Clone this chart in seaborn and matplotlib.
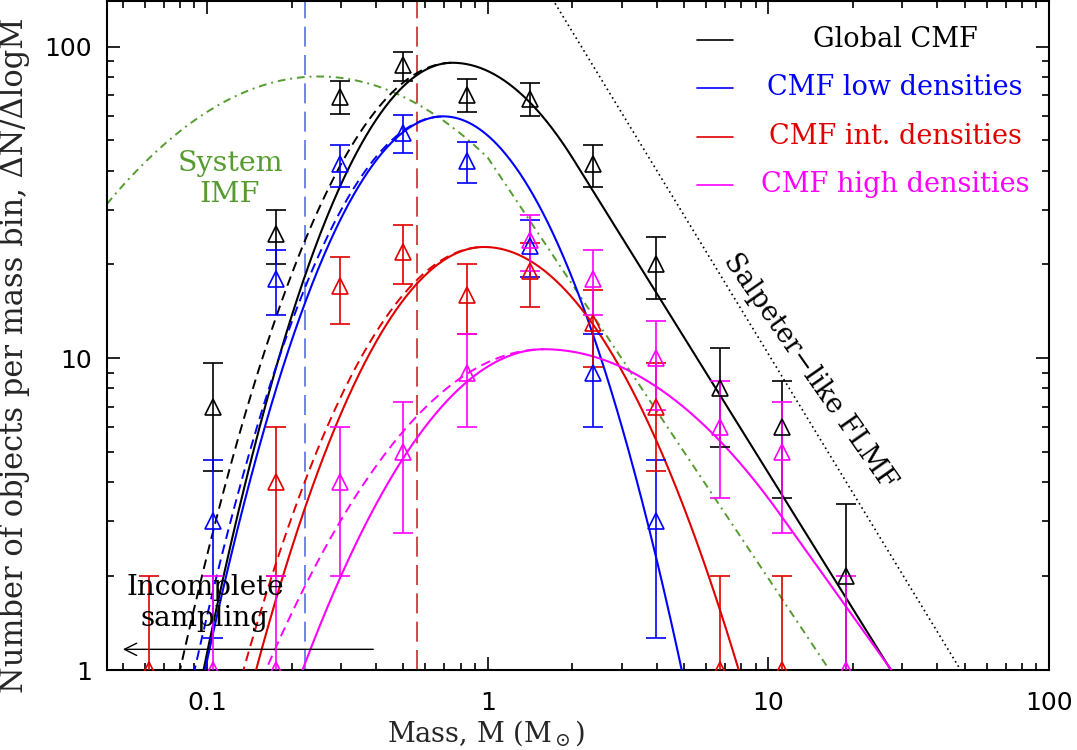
import numpy as np
import pandas as pd
import seaborn as sns
import matplotlib
matplotlib.use("Agg")
import matplotlib.pyplot as plt
from matplotlib.ticker import FixedLocator, FuncFormatter, NullFormatter

# ---------------- data ----------------
mass_bins = [0.062, 0.105, 0.176, 0.297, 0.498, 0.841, 1.41, 2.37, 3.99, 6.71, 11.2, 18.9]
nan = np.nan
n_global = [nan, 7, 25, 69, 87, 70, 68, 42, 20, 8, 6, 2]
err_global = [nan, 2.65, 5.0, 8.3, 9.3, 8.4, 8.2, 6.5, 4.5, 2.8, 2.45, 1.4]
n_low = [nan, 3, 18, 42, 53, 43, 23, 9, 3, nan, nan, nan]
err_low = [nan, 1.73, 4.24, 6.5, 7.3, 6.55, 4.8, 3.0, 1.73, nan, nan, nan]
n_int = [1, nan, 4, 17, 22, 16, 19, 13, 7, 1, 1, nan]
err_int = [1.0, nan, 2.0, 4.12, 4.7, 4.0, 4.36, 3.6, 2.65, 1.0, 1.0, nan]
n_high = [nan, 1, 1, 4, 5, 9, 24, 18, 10, 6, 5, 1]
err_high = [nan, 1.0, 1.0, 2.0, 2.24, 3.0, 4.9, 4.24, 3.16, 2.45, 2.24, 1.0]

series_labels = ["Global CMF", "CMF low densities", "CMF int. densities", "CMF high densities"]

# fitted model parameters (log10 peak mass, log10 peak value, widths in dex, tail slope)
fit_logpeak = [-0.126, -0.158, -0.013, 0.20]
fit_logamp = [1.948, 1.776, 1.357, 1.029]
fit_sigma_low = [0.296, 0.297, 0.325, 0.395]
fit_sigma_high = [0.361, 0.297, 0.363, 0.539]
fit_tail_slope = [-1.448, None, None, -1.26]
# alternative (dashed) fits differ only on the low-mass side
alt_sigma_low = [0.324, 0.310, 0.343, 0.455]

# Chabrier-like system IMF
imf_logpeak = -0.602
imf_logamp = 1.904
imf_sigma = 0.55
imf_tail_slope = -1.35
imf_tail_start = 0.0

# Salpeter-like reference line
salp_slope = -1.48
salp_log_m_at_one = 1.685

# completeness limits
limit_low_density = 0.223
limit_int_density = 0.56

# ---------------- style ----------------
sns.set_theme(style="ticks")
plt.rcParams["font.family"] = ["DejaVu Serif"]
plt.rcParams["mathtext.fontset"] = "dejavuserif"
plt.rcParams["axes.linewidth"] = 1.5

colors = ["black", "#0000ff", "#e00000", "#ff00ff"]
green = "#559b2f"

LOG10E = np.log10(np.e)


def skew_lognormal(logm, logpeak, logamp, sig_l, sig_r, tail=None, tail_start=None):
    d = logm - logpeak
    sig = np.where(d < 0, sig_l, sig_r)
    logy = logamp - LOG10E * d ** 2 / (2 * sig ** 2)
    if tail is not None:
        if tail_start is None:
            dt = -tail * sig_r ** 2 / LOG10E
        else:
            dt = tail_start - logpeak
        yt = logamp - LOG10E * dt ** 2 / (2 * sig_r ** 2)
        logy = np.where(d > dt, yt + tail * (d - dt), logy)
    return 10 ** logy


logm = np.linspace(np.log10(0.044), 2.0, 800)
mass_grid = 10 ** logm

fig = plt.figure(figsize=(10.77, 7.5), dpi=100)
ax = fig.add_axes([107 / 1077, 1 - 670 / 750, 942 / 1077, 669 / 750])
ax.set_xscale("log")
ax.set_yscale("log")

# vertical completeness lines
ax.axvline(limit_low_density, color="#5a6ee8", lw=1.2, ls=(0, (12, 5)), zorder=1)
ax.axvline(limit_int_density, color="#c8282e", lw=1.2, ls=(0, (12, 5)), zorder=1)

# system IMF
imf = skew_lognormal(logm, imf_logpeak, imf_logamp, imf_sigma, imf_sigma,
                     imf_tail_slope, imf_tail_start)
sns.lineplot(x=mass_grid, y=imf, color=green, lw=1.4, ls=(0, (4, 2.5, 1, 2.5)),
             estimator=None, sort=False, ax=ax, zorder=2)

# Salpeter-like line
salp = 10 ** (salp_slope * (logm - salp_log_m_at_one))
sns.lineplot(x=mass_grid, y=salp, color="black", lw=1.2, ls=(0, (1, 2)),
             estimator=None, sort=False, ax=ax, zorder=2)

# fitted curves
for i in range(4):
    solid = skew_lognormal(logm, fit_logpeak[i], fit_logamp[i], fit_sigma_low[i],
                           fit_sigma_high[i], fit_tail_slope[i])
    dashed = skew_lognormal(logm, fit_logpeak[i], fit_logamp[i], alt_sigma_low[i],
                            fit_sigma_high[i], fit_tail_slope[i])
    left = logm <= fit_logpeak[i]
    sns.lineplot(x=mass_grid[left], y=dashed[left], color=colors[i], lw=1.4,
                 ls=(0, (5, 3)), estimator=None, sort=False, ax=ax, zorder=3)
    sns.lineplot(x=mass_grid, y=solid, color=colors[i], lw=1.5,
                 estimator=None, sort=False, ax=ax, zorder=3)

# data points with error bars
for vals, errs, col in zip([n_global, n_low, n_int, n_high],
                           [err_global, err_low, err_int, err_high], colors):
    ax.errorbar(mass_bins, vals, yerr=errs, fmt="^", mfc="none", mec=col, ms=12,
                mew=1.2, ecolor=col, elinewidth=1.2, capsize=7.2, capthick=1.2,
                zorder=4)

ax.set_xlim(0.044, 100)
ax.set_ylim(1, 140)

# ticks
ax.xaxis.set_major_locator(FixedLocator([0.1, 1, 10, 100]))
ax.xaxis.set_minor_locator(FixedLocator(
    [k * 10.0 ** e for e in range(-2, 2) for k in range(2, 10)]))
ax.yaxis.set_major_locator(FixedLocator([1, 10, 100]))
ax.yaxis.set_minor_locator(FixedLocator(
    [k * 10.0 ** e for e in range(0, 3) for k in range(2, 10)]))
fmt = FuncFormatter(lambda v, _: f"{v:g}")
ax.xaxis.set_major_formatter(fmt)
ax.yaxis.set_major_formatter(fmt)
ax.xaxis.set_minor_formatter(NullFormatter())
ax.yaxis.set_minor_formatter(NullFormatter())
ax.tick_params(which="both", direction="in", top=True, right=True, width=1.2,
               colors="black")
ax.tick_params(which="major", length=9.5)
ax.tick_params(which="minor", length=5)
ax.tick_params(axis="x", which="major", pad=15)
ax.tick_params(axis="y", which="major", pad=11)
for lab in ax.get_xticklabels() + ax.get_yticklabels():
    lab.set_family("DejaVu Sans")
    lab.set_fontsize(18)

for s in ax.spines.values():
    s.set_linewidth(1.5)
    s.set_color("black")

ax.set_xlabel(r"Mass, M (M$_\odot$)", fontsize=19.5)
ax.xaxis.set_label_coords(0.403, -0.072)
ax.set_ylabel("Number of objects per mass bin, \u0394N/\u0394logM", fontsize=22)
ax.yaxis.set_label_coords(-0.082, 0.471)

# legend drawn as lines + centred coloured texts
leg_rows = [0.942, 0.870, 0.797, 0.725]
for lab, col, yr in zip(series_labels, colors, leg_rows):
    ax.plot([0.626, 0.665], [yr, yr], color=col, lw=1.2, transform=ax.transAxes)
    ax.text(0.8365, yr, lab, color=col, fontsize=19.5, ha="center", va="center",
            transform=ax.transAxes)

# annotations
ax.text(0.1306, 0.734, "System\nIMF", color=green, fontsize=20.5, ha="center",
        va="center", multialignment="center", transform=ax.transAxes)
ax.text(0.104, 0.100, "Incomplete\nsampling", color="black", fontsize=20,
        ha="center", va="center", multialignment="center", transform=ax.transAxes,
        zorder=5)
ax.annotate("", xy=(0.049, 1.165), xytext=(0.40, 1.165),
            arrowprops=dict(arrowstyle="->", lw=1.0, color="black",
                            mutation_scale=22))
ax.text(0.746, 0.447, "Salpeter\u2212like FLMF", color="black", fontsize=19.5,
        rotation=-55, rotation_mode="anchor", ha="center", va="center",
        transform=ax.transAxes)

fig.savefig("out.png", dpi=100)
